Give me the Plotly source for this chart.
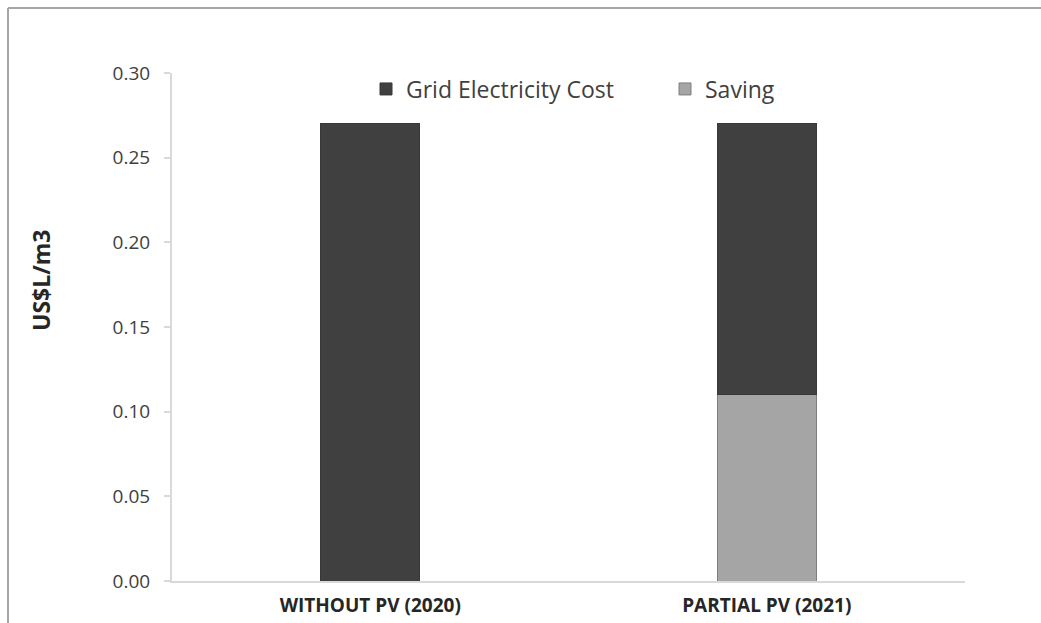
import plotly.graph_objects as go

categories = ["WITHOUT PV (2020)", "PARTIAL PV (2021)"]
saving = [0.0, 0.11]
grid_cost = [0.27, 0.16]
y_ticks = [0.00, 0.05, 0.10, 0.15, 0.20, 0.25, 0.30]

W, H = 1041, 623
ML, MR, MT, MB = 172, 76, 73, 42
PW, PH = W - ML - MR, H - MT - MB


def px_x(x):
    return (x - ML) / PW


def px_y(y):
    return 1 - (y - MT) / PH


fig = go.Figure()
fig.add_trace(go.Bar(
    name="Saving", x=categories, y=saving, width=0.25,
    marker=dict(color="#a5a5a5", line=dict(color="#7f7f7f", width=1)),
))
fig.add_trace(go.Bar(
    name="Grid Electricity Cost", x=categories, y=grid_cost, width=0.25,
    marker=dict(color="#404040", line=dict(color="#383838", width=1)),
))

# thin frame along the top and left edges of the page
frame = dict(type="line", xref="paper", yref="paper",
             line=dict(color="#a6a6a6", width=2))
fig.add_shape(x0=px_x(8), x1=px_x(W), y0=px_y(8), y1=px_y(8), **frame)
fig.add_shape(x0=px_x(8), x1=px_x(8), y0=px_y(8), y1=px_y(H), **frame)

# y-axis title
fig.add_annotation(
    text="<b>US$L/m3</b>", textangle=-90,
    xref="paper", yref="paper", x=px_x(41), y=px_y(281),
    xanchor="center", yanchor="middle", showarrow=False,
    font=dict(size=23, color="#262626"),
)

fig.update_layout(
    width=W, height=H,
    margin=dict(l=ML, r=MR, t=MT, b=MB),
    barmode="stack",
    plot_bgcolor="white", paper_bgcolor="white",
    font=dict(family="Open Sans, sans-serif", color="#404040", size=16),
    showlegend=True,
    legend=dict(
        orientation="h", traceorder="reversed",
        x=px_x(366), xanchor="left", y=px_y(89), yanchor="middle",
        font=dict(size=23, color="#404040"),
        entrywidth=254, entrywidthmode="pixels",
        bgcolor="rgba(0,0,0,0)",
    ),
    xaxis=dict(
        showline=True, linecolor="#d9d9d9", linewidth=2,
        ticks="", showgrid=False, automargin=False,
        tickfont=dict(size=19, color="#262626", family="Open Sans, sans-serif", weight="bold"),
        ticklabelstandoff=6,
        range=[-0.5, 1.5],
    ),
    yaxis=dict(
        range=[0, 0.30], tickvals=y_ticks,
        tickformat=".2f", automargin=False,
        showline=True, linecolor="#d9d9d9", linewidth=2,
        ticks="outside", ticklen=6, tickcolor="#d9d9d9", tickwidth=2,
        ticklabelstandoff=10,
        showgrid=False, zeroline=False,
        tickfont=dict(size=19, color="#404040"),
    ),
)

fig.write_html("out.html")
